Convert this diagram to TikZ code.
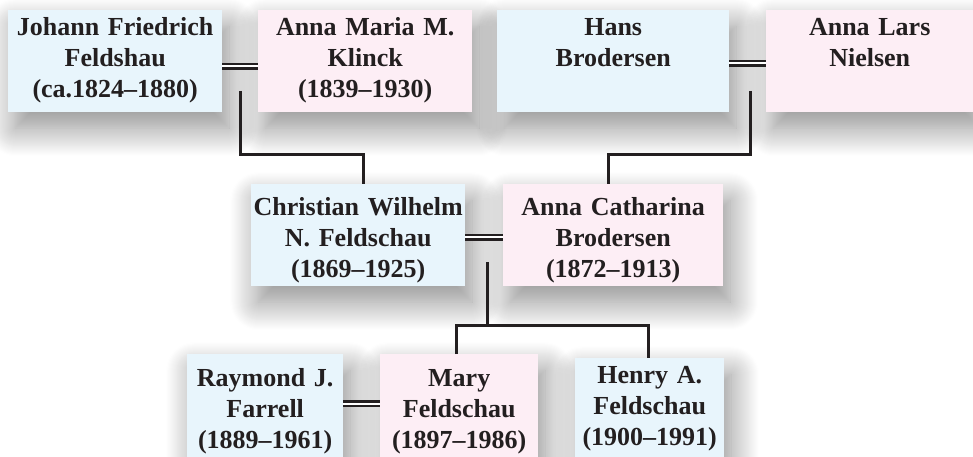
\documentclass[tikz,border=0pt]{standalone}
\usepackage{fontspec}
\setmainfont{Liberation Serif}
\usepackage{tikz}
\usetikzlibrary{shadows.blur}
\definecolor{boyblue}{HTML}{E8F5FC}
\definecolor{girlpink}{HTML}{FDEEF5}
\definecolor{ink}{HTML}{231F20}

\tikzset{
    person/.style={anchor=north west, inner sep=0pt, align=center, text=ink,
        font=\bfseries\fontsize{26}{31}\selectfont,
        blur shadow={shadow xshift=7pt, shadow yshift=-16pt, shadow blur radius=28pt,
            shadow blur steps=28, shadow opacity=45}},
    male/.style={person, fill=boyblue},
    female/.style={person, fill=girlpink},
    marriage/.style={draw=ink, line width=2.2pt, double=white, double distance=2.4pt},
    descent/.style={draw=ink, line width=3pt}
}

\begin{document}
\begin{tikzpicture}[x=1pt, y=-1pt]
    \useasboundingbox (0,0) rectangle (973,457);
    % grandparents
    \node[male, text width=214pt, text height=25pt, text depth=77pt] at(8,10)(jf){Johann Friedrich\\Feldshau\\(ca.1824--1880)};
    \node[female, text width=214pt, text height=25pt, text depth=77pt] at(258,10)(am){Anna Maria M.\\Klinck\\(1839--1930)};
    \node[male, text width=232pt, text height=25pt, text depth=77pt] at(497,10)(hb){Hans\\Brodersen};
    \node[female, text width=207pt, text height=25pt, text depth=77pt] at(766,10)(al){Anna Lars\\Nielsen};
    % parents
    \node[male, text width=214pt, text height=31pt, text depth=71pt] at(251,184)(cw){Christian Wilhelm\\N. Feldschau\\(1869--1925)};
    \node[female, text width=220pt, text height=31pt, text depth=71pt] at(503,184)(ac){Anna Catharina\\Brodersen\\(1872--1913)};
    % children
    \node[male, text width=156pt, text height=32pt, text depth=71pt] at(187,354)(rf){Raymond J.\\Farrell\\(1889--1961)};
    \node[female, text width=158pt, text height=32pt, text depth=71pt] at(380,354)(my){Mary\\Feldschau\\(1897--1986)};
    \node[male, text width=149pt, text height=25pt, text depth=74pt] at(575,358)(hy){Henry A.\\Feldschau\\(1900--1991)};
    % marriages
    \draw[marriage] ([yshift=-5pt]jf.east) -- ([yshift=-5pt]am.west);
    \draw[marriage] ([yshift=-2pt]hb.east) -- ([yshift=-2pt]al.west);
    \draw[marriage] ([yshift=-2pt]cw.east) -- ([yshift=-2pt]ac.west);
    \draw[marriage] ([yshift=2pt]rf.east) -- ([yshift=2pt]my.west);
    % descent
    \coordinate (c1) at (240,91);
    \coordinate (c2) at (750,91);
    \coordinate (c3) at (487,262);
    \draw[descent] (c1) -- ++(0,64) -| ([xshift=5pt]cw.north);
    \draw[descent] (c2) -- ++(0,64) -| ([xshift=-5pt]ac.north);
    \draw[descent] (c3) -- ++(0,63) coordinate (k3);
    \draw[descent] ([xshift=-3pt]my.north) |- (k3) -| ([xshift=-1pt]hy.north);
\end{tikzpicture}
\end{document}
